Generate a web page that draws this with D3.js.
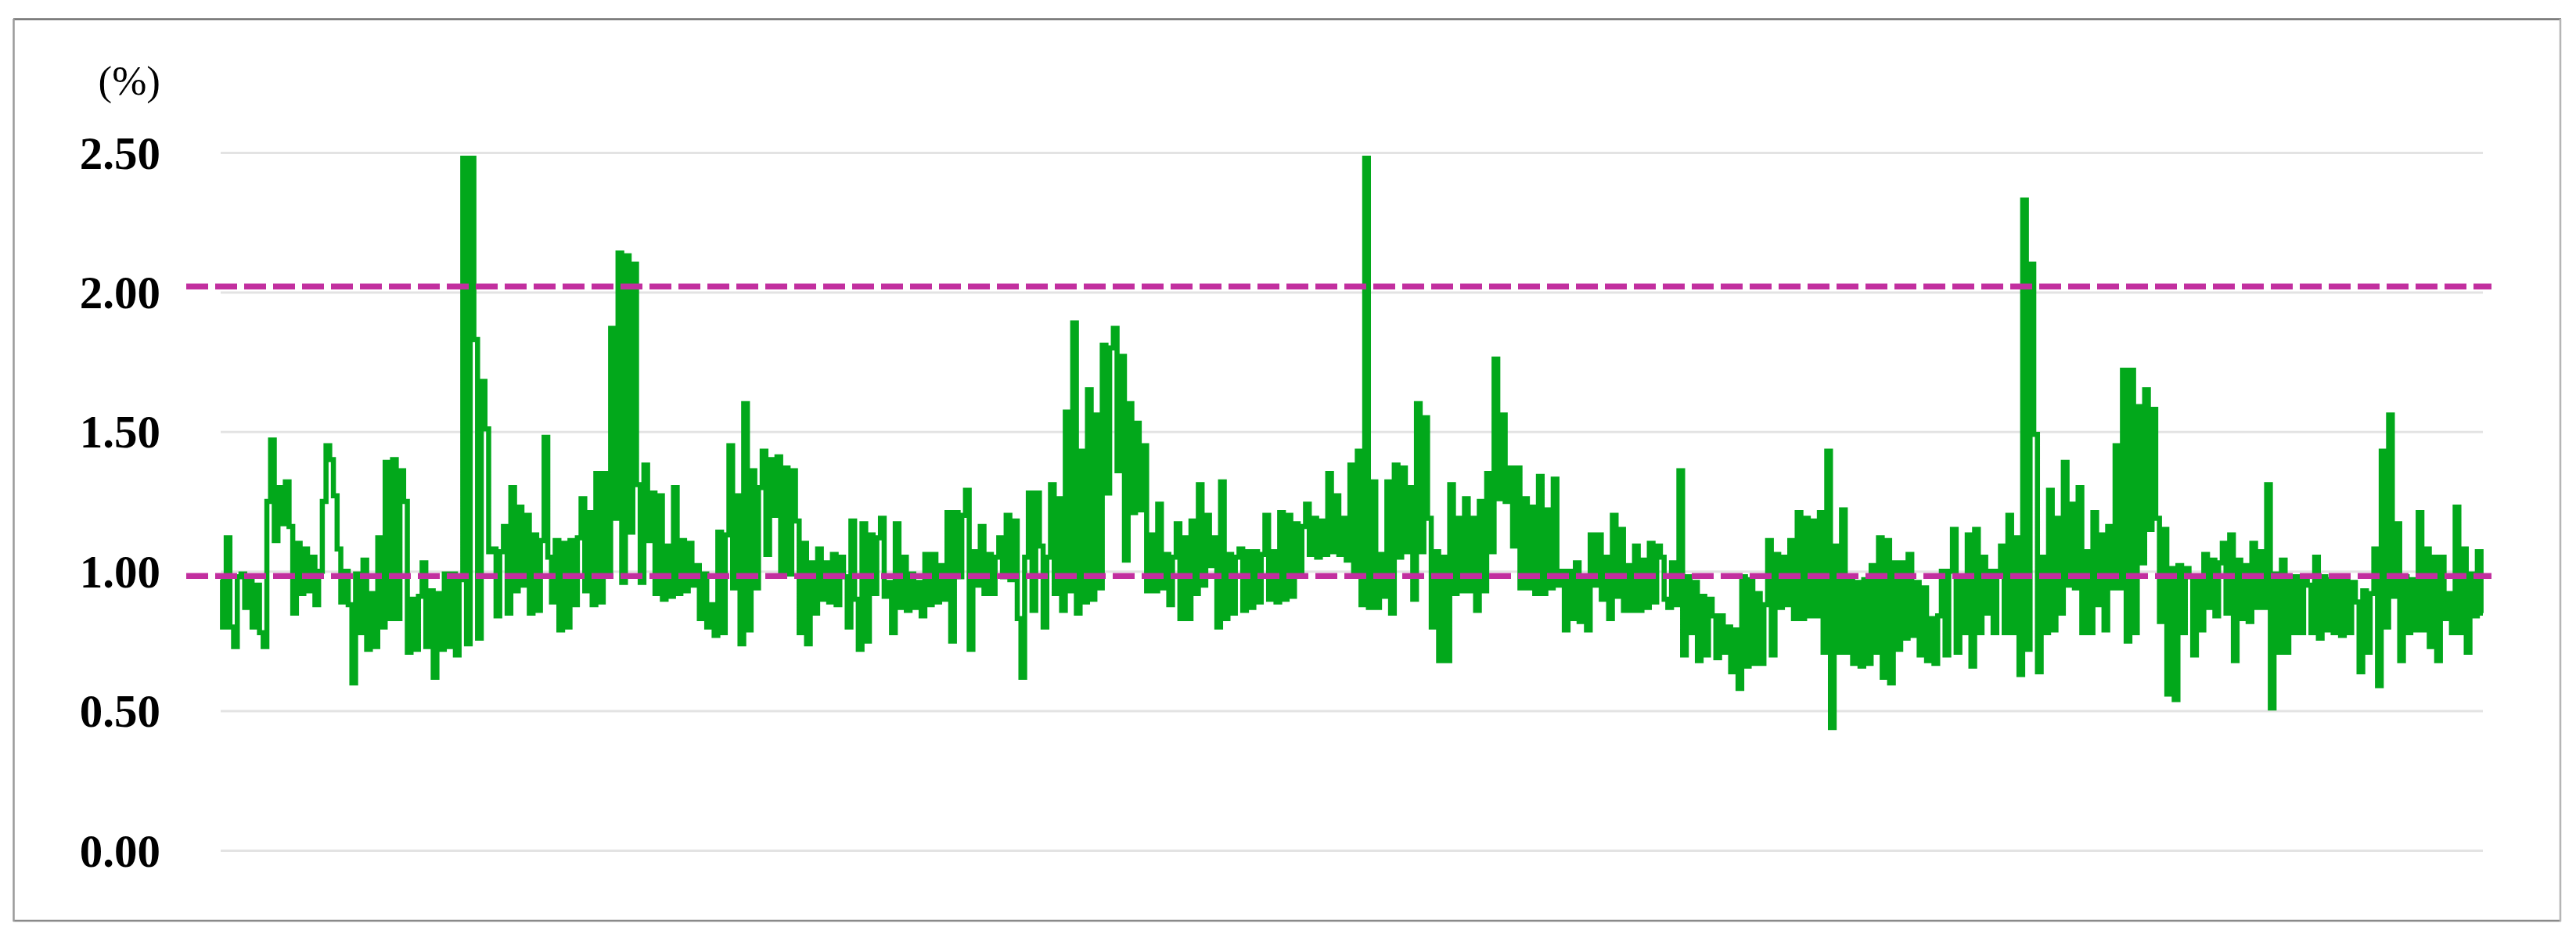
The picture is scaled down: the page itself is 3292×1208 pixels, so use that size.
<!DOCTYPE html>
<html>
<head>
<meta charset="utf-8">
<script src="https://cdn.jsdelivr.net/npm/d3@7"></script>
<style>
  html, body { margin: 0; padding: 0; background: #fff; }
  svg { display: block; }
</style>
</head>
<body>
<svg id="chart" width="3292" height="1208"></svg>
<script>
// ---- data ----
const seriesPart1 = [
0.97,0.80,1.12,0.80,0.73,0.98,0.99,0.87,0.97,0.80,0.95,0.78,
0.73,1.25,1.47,1.11,1.30,1.17,1.32,1.16,0.85,1.10,
0.92,1.08,0.93,1.05,0.88,1.00,1.25,1.45,1.40,1.27,
1.08,0.89,1.00,0.88,0.60,0.99,0.78,1.04,0.72,0.92,
0.73,1.12,0.80,1.39,0.83,1.40,0.83,1.36,1.25,0.71,
0.90,0.72,0.91,1.03,0.73,0.93,0.62,0.92,0.72,0.99,
0.73,0.99,0.70,0.97,2.48,0.74,2.48,1.83,0.76,1.68,
1.51,1.07,1.08,0.84,1.07,1.16,0.85,1.30,0.93,1.23,
0.95,1.20,0.85,1.13,0.86,1.11,1.48,1.05,0.89,1.11,0.79,1.10,0.80,
1.11,0.88,1.12,1.26,0.93,1.21,0.88,1.35,0.89];
const seriesPart2 = [
1.35,0.99,1.87,1.19,2.14,0.96,2.13,1.14,2.10,1.31,
0.96,1.38,1.11,1.28,0.92,1.27,0.90,1.09,0.91,1.30,
0.92,1.11,0.93,1.10,0.95,1.02,0.83,0.99,0.80,0.88,
0.77,1.14,0.78,1.13,1.45,0.94,1.27,0.74,1.60,0.79,
1.36,0.94,1.30,1.43,1.06,1.40,1.20,1.41,0.99,1.37,
0.99,1.36,1.18,0.78,1.10,0.74,1.03,0.85,1.08,0.90,
1.03,0.89,1.06,0.88,1.05,0.98,0.80,1.18,0.90,0.72,
1.17,0.75,1.13,0.92,1.12,1.19,0.91,0.96,0.78,1.17,
0.87,1.05,0.86,0.99,0.87,0.96,0.84,1.06,0.88,1.06,
0.89,1.02,0.90,1.21,0.75,1.21,0.98,1.20,1.29,0.72,
1.07,0.95];
const seriesPart3 = [
1.16,0.92,1.06,0.92,1.05,1.12,0.98,1.20,0.97,1.18,
0.83,0.62,1.05,1.28,0.86,1.28,1.09,0.80,1.05,1.31,
0.92,1.26,0.86,1.57,0.93,1.89,0.85,1.43,0.89,1.65,
0.90,1.56,0.94,1.81,1.28,1.80,1.87,1.36,1.77,1.04,
1.60,1.21,1.53,1.22,1.45,0.93,1.13,0.93,1.24,0.94,
1.06,0.88,1.05,1.17,0.83,1.12,0.83,1.18,0.92,1.31,
0.95,1.20,1.02,1.12,0.80,1.32,0.83,1.06,0.85,1.05,
1.08,0.86,1.07,0.87,1.07,0.89,1.06,1.20,0.90,1.07,
0.89,1.21,0.90,1.20,0.91,1.17,1.00,1.16,1.24,1.06,
1.19,1.05,1.18,1.06,1.35,1.07,1.27,1.06,1.19,1.04,
1.38,1.00,1.43,0.88,2.48,0.87];
const seriesPart4 = [
1.32,0.87,1.06,0.91,1.32,0.85,1.38,1.05,1.37,1.07,
1.30,0.90,1.60,1.07,1.55,1.19,0.80,1.07,0.68,1.05,
0.68,1.31,0.92,1.19,0.93,1.26,0.93,1.19,0.86,1.25,
0.93,1.35,1.07,1.76,1.26,1.56,1.25,1.37,1.09,1.37,
0.94,1.26,0.94,1.23,0.92,1.34,0.92,1.22,0.94,1.33,
0.95,1.00,0.79,1.00,0.83,1.03,0.82,0.97,0.79,1.13,
0.95,1.13,0.90,1.05,0.83,1.20,0.91,1.15,0.86,1.02,
0.86,1.09,0.86,1.04,0.87,1.10,0.89,1.09,1.05,0.90,
0.87,1.03,0.88,1.36,0.70,0.98,0.78,0.96,0.68,0.91,
0.70,0.90,0.84,0.69,0.84,0.71,0.80,0.64,0.79,0.58,
0.98,0.66,0.97,0.67];
const seriesPart5 = [
0.92,0.67,0.88,1.11,0.70,1.06,0.87,1.05,0.88,1.11,
0.83,1.21,0.83,1.19,0.84,1.18,0.84,1.21,0.71,1.43,
0.44,1.09,0.71,1.22,0.71,0.98,0.67,0.96,0.66,0.97,
0.67,1.02,0.71,1.12,0.62,1.11,0.60,1.03,0.72,1.03,
0.76,1.06,0.77,0.96,0.70,0.94,0.68,0.83,0.67,0.84,
1.00,0.70,1.00,1.15,0.71,0.98,0.78,1.13,0.66,1.15,
0.78,1.05,0.85,1.00,0.78,1.00,1.09,0.78,1.20,0.78,
1.12,0.63,2.33,0.72,2.10,1.49,0.64,1.05,0.78,1.29,
0.79,1.19,0.85,1.39,0.95,1.24,0.94,1.30,0.78,1.07,
0.78,1.21,0.88,1.13,0.79,1.16,0.94,1.45,0.94,1.72,
0.75];
const seriesPart6 = [
1.72,0.78,1.59,1.03,1.65,1.15,1.58,1.19,0.82,1.15,
0.56,1.01,0.54,1.02,0.78,1.01,0.98,0.70,0.98,0.79,
1.06,0.87,1.04,0.84,1.03,1.10,0.85,1.13,0.68,1.04,
0.83,1.02,0.82,1.10,0.87,1.07,0.87,1.31,0.51,0.99,
0.71,1.04,0.71,0.98,0.78,0.98,0.78,0.97,0.95,0.78,
1.05,0.76,0.98,0.79,0.97,0.78,0.98,0.77,0.97,0.78,
0.96,0.89,0.64,0.93,0.71,0.92,1.08,0.59,1.43,0.80,
1.56,0.91,1.17,0.68,0.98,0.78,0.97,0.79,1.21,0.79,
1.08,0.73,1.05,0.68,1.05,0.83,0.92,0.78,1.23,0.78,
1.08,0.71,0.99,0.84,1.07,0.85];

const yTickValues = [0, 0.5, 1.0, 1.5, 2.0, 2.5];
const thresholdValues = [0.983, 2.02];
const unitLabel = "(%)";

// ---- chart ----
const values = [].concat(seriesPart1, seriesPart2, seriesPart3, seriesPart4, seriesPart5, seriesPart6);

const W = 3292, H = 1208;
const plot = { left: 282, right: 3173, top: 195, bottom: 1087 };

const svg = d3.select("#chart");

const x = d3.scaleLinear().domain([0, values.length - 1]).range([plot.left, plot.right]);
const y = d3.scaleLinear().domain([0, 2.5]).range([plot.bottom, plot.top]);

svg.append("rect").attr("width", W).attr("height", H).attr("fill", "#fff");

// outer frame
const frame = svg.append("g");
frame.append("line").attr("x1", 17).attr("x2", 3273).attr("y1", 24.5).attr("y2", 24.5)
  .attr("stroke", "#6f6f6f").attr("stroke-width", 2.5);
frame.append("line").attr("x1", 17).attr("x2", 3273).attr("y1", 1177).attr("y2", 1177)
  .attr("stroke", "#8a8a8a").attr("stroke-width", 2.5);
frame.append("line").attr("x1", 17.5).attr("x2", 17.5).attr("y1", 24).attr("y2", 1178)
  .attr("stroke", "#9a9a9a").attr("stroke-width", 2.5);
frame.append("line").attr("x1", 3272).attr("x2", 3272).attr("y1", 24).attr("y2", 1178)
  .attr("stroke", "#b5b5b5").attr("stroke-width", 2.5);

// gridlines + labels via axis
const yAxis = d3.axisLeft(y)
  .tickValues(yTickValues)
  .tickSize(-(plot.right - plot.left))
  .tickPadding(77)
  .tickFormat(d3.format(".2f"));

const ax = svg.append("g")
  .attr("transform", `translate(${plot.left},0)`)
  .call(yAxis);
ax.select(".domain").remove();
ax.selectAll(".tick line").attr("stroke", "#e3e3e3").attr("stroke-width", 3);
ax.selectAll(".tick text")
  .attr("font-family", "'Liberation Serif', 'Times New Roman', serif")
  .attr("font-weight", "bold")
  .attr("font-size", 59)
  .attr("fill", "#000")
  .attr("dy", "0.34em");

// unit label
svg.append("text")
  .attr("x", 205).attr("y", 121)
  .attr("text-anchor", "end")
  .attr("font-family", "'Liberation Serif', 'Times New Roman', serif")
  .attr("font-size", 53)
  .attr("fill", "#000")
  .text(unitLabel);

// series line (dense daily series drawn as steps)
const line = d3.line()
  .x((d, i) => x(i))
  .y(d => y(d))
  .curve(d3.curveStep);

svg.append("path")
  .datum(values)
  .attr("fill", "none")
  .attr("stroke", "#02a81b")
  .attr("stroke-width", 6.5)
  .attr("stroke-linejoin", "miter")
  .attr("d", line);

// threshold dashed lines
svg.append("g").selectAll("line")
  .data(thresholdValues)
  .join("line")
  .attr("x1", 238).attr("x2", 3184)
  .attr("y1", d => y(d)).attr("y2", d => y(d))
  .attr("stroke", "#c22f9f")
  .attr("stroke-width", 7.5)
  .attr("stroke-dasharray", "28,9");
</script>
</body>
</html>
